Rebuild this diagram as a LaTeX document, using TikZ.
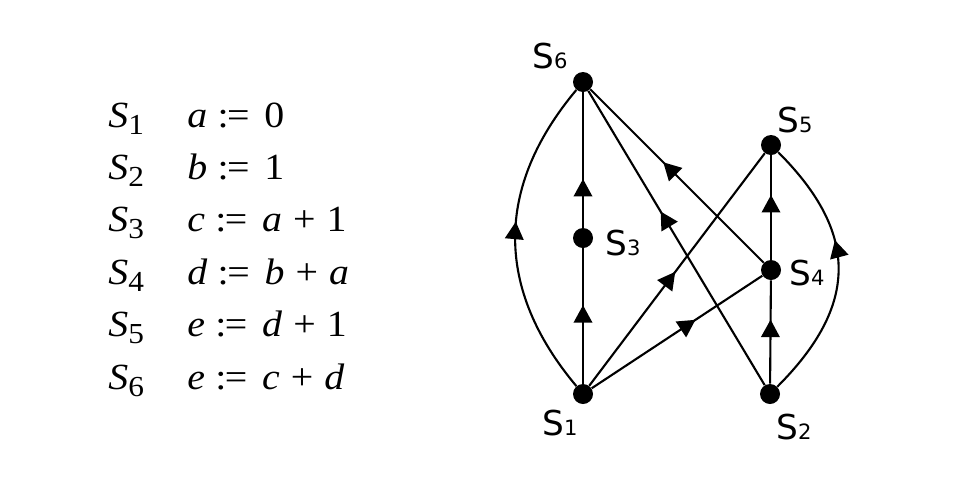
\documentclass[tikz,border=0pt]{standalone}
\usepackage{fontspec}
\usepackage{tikz}
\usetikzlibrary{arrows.meta, decorations.markings}
\newfontfamily\labfont{DejaVu Sans}
\newfontfamily\stmfont[FakeStretch=1.08]{Liberation Serif}
\newcommand{\slab}[1]{S{\fontsize{12pt}{12pt}\selectfont #1}}
\newcommand{\ssub}[1]{\textit{S}\raisebox{-4pt}{\fontsize{16.5pt}{16.5pt}\selectfont #1}}
\newcommand{\asgn}{\hspace{0.28em}:\hspace{-0.04em}=\hspace{0.4em}}
\newcommand{\plus}{\hspace{0.3em}+\hspace{0.3em}}
\tikzset{
  vtx/.style  ={circle, fill=black, minimum size=0.4cm, inner sep=0pt},
  lab/.style  ={font=\labfont\fontsize{19.5pt}{20pt}\selectfont,
                anchor=base, inner sep=0pt},
  stm/.style  ={font=\stmfont\fontsize{21pt}{22pt}\selectfont,
                anchor=base west, inner sep=0pt},
  dep/.style  ={line width=1.2pt},
  tipat/.style={postaction={decorate}, decoration={markings,
                mark=at position #1 with
                {\arrow{Triangle[length=0.35cm, width=0.37cm]}}}},
}
\begin{document}
\begin{tikzpicture}[x=0.02cm, y=-0.02cm]
  \useasboundingbox (0,0) rectangle (960,481);
  % statements
  \node[stm] (st1) at (108,127.0) {\ssub{1}};
  \node[stm] (st2) at (108,179.4) {\ssub{2}};
  \node[stm] (st3) at (108,231.8) {\ssub{3}};
  \node[stm] (st4) at (108,284.2) {\ssub{4}};
  \node[stm] (st5) at (108,336.6) {\ssub{5}};
  \node[stm] (st6) at (108,389.0) {\ssub{6}};
  \node[stm] (ex1) at (187,127.0) {\textit{a}\asgn 0};
  \node[stm] (ex2) at (187,179.4) {\textit{b}\asgn 1};
  \node[stm] (ex3) at (187,231.8) {\textit{c}\asgn\textit{a}\plus 1};
  \node[stm] (ex4) at (187,284.2) {\textit{d}\asgn\textit{b}\plus\textit{a}};
  \node[stm] (ex5) at (187,336.6) {\textit{e}\asgn\textit{d}\plus 1};
  \node[stm] (ex6) at (187,389.0) {\textit{e}\asgn\textit{c}\plus\textit{d}};
  % dependence graph
  \node[vtx] (s1) at (583,394) {};
  \node[vtx] (s2) at (770,394) {};
  \node[vtx] (s3) at (583,238) {};
  \node[vtx] (s4) at (771,270) {};
  \node[vtx] (s5) at (771,145) {};
  \node[vtx] (s6) at (583,82)  {};
  \node[lab] (l1) at (560,435) {\slab{1}};
  \node[lab] (l2) at (794,439) {\slab{2}};
  \node[lab] (l3) at (623,255) {\slab{3}};
  \node[lab] (l4) at (807,285) {\slab{4}};
  \node[lab] (l5) at (795,132) {\slab{5}};
  \node[lab] (l6) at (550,68)  {\slab{6}};
  \draw[dep, tipat=0.58] (s1) -- (s3);
  \draw[dep, tipat=0.36] (s3) -- (s6);
  \draw[dep, tipat=0.55] (s1) to[out=130, in=-130, looseness=1.1] (s6);
  \draw[dep, tipat=0.49] (s1) -- (s5);
  \draw[dep, tipat=0.61] (s1) -- (s4);
  \draw[dep, tipat=0.62] (s2) -- (s4);
  \draw[dep, tipat=0.62] (s4) -- (s5);
  \draw[dep, tipat=0.61] (s2) to[out=45, in=-45, looseness=1.25] (s5);
  \draw[dep, tipat=0.58] (s4) -- (s6);
  \draw[dep, tipat=0.59] (s2) -- (s6);
\end{tikzpicture}
\end{document}
